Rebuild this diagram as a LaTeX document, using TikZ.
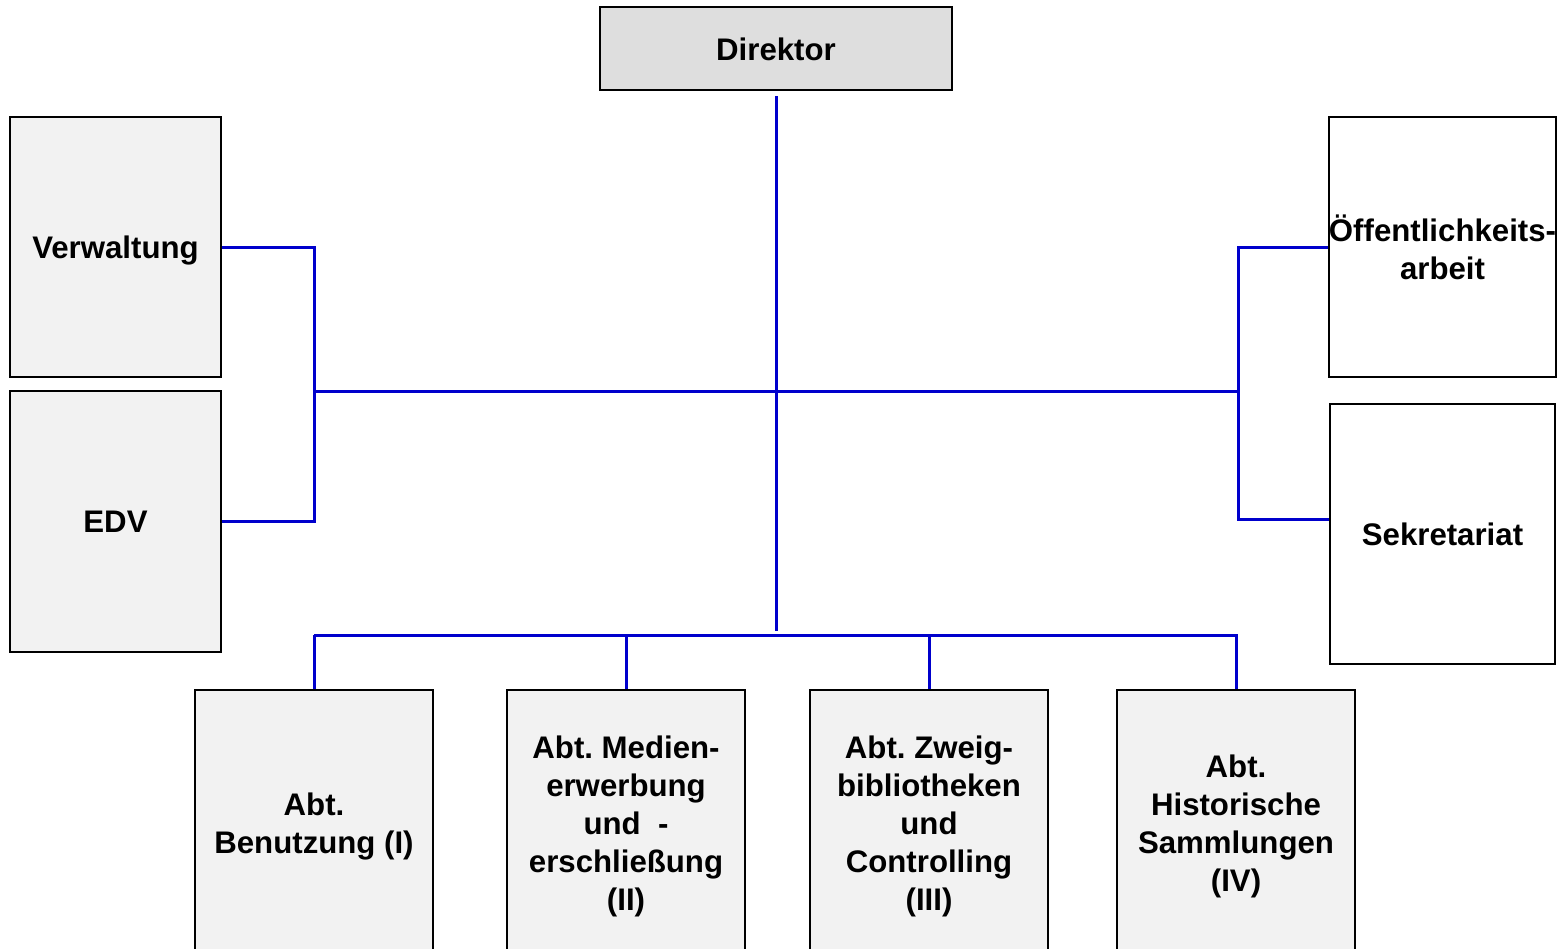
\documentclass[tikz,border=0pt]{standalone}
\usepackage{fontspec}
\setmainfont{Liberation Sans}
\frenchspacing
\definecolor{dirgrey}{HTML}{DEDEDE}
\definecolor{boxgrey}{HTML}{F2F2F2}
\definecolor{linkblue}{HTML}{0000CC}
\begin{document}
\begin{tikzpicture}[x=0.5pt,y=-0.5pt,
  box/.style={draw=black, line width=1pt, align=center, inner sep=0pt, text depth=0pt,
    font=\fontsize{15.6}{19}\selectfont\bfseries},
  side/.style={box, minimum width=105.5pt, minimum height=130pt},
  rside/.style={box, fill=white, minimum width=112.5pt, minimum height=130pt},
  abt/.style={box, fill=boxgrey, minimum width=119pt, minimum height=133pt},
  link/.style={draw=linkblue, line width=1.5pt}]
\clip (0,0) rectangle (1562,948);
\fill[white] (0,0) rectangle (1562,948);
% nodes
\node[box, fill=dirgrey, minimum width=176pt, minimum height=41.5pt] (dir) at (776,48.5) {\raisebox{-1pt}{Direktor}};
\node[side, fill=boxgrey] (verw) at (115.5,247) {Verwaltung};
\node[side, fill=boxgrey, minimum height=130.5pt] (edv) at (115.5,521.5) {EDV};
\node[rside] (oeff) at (1442.5,247) {Öffentlichkeits-\\arbeit};
\node[rside] (sek) at (1442.5,534) {Sekretariat};
\node[abt] (a1) at (314,823) {Abt.\\Benutzung (I)};
\node[abt] (a2) at (626,823) {Abt. Medien-\\erwerbung\\und\ \ -\\erschließung\\(II)};
\node[abt] (a3) at (929,823) {Abt. Zweig-\\bibliotheken\\und\\Controlling\\(III)};
\node[abt] (a4) at (1236,823) {Abt.\\Historische\\Sammlungen\\(IV)};
% junctions
\coordinate (hl) at (314,391);
\coordinate (hr) at (1238,391);
\coordinate (bl) at (314,635);
\coordinate (br) at (1238,635);
\coordinate (bc) at (776,631);
% connectors
\draw[link, shorten <=2.5pt] (dir.south) -- (bc);
\draw[link] (hl) -- (hr);
\draw[link] (verw.east) -| (hl);
\draw[link] (hl) |- (edv.east);
\draw[link] (oeff.west) -| (hr);
\draw[link] (hr) |- (sek.west |- 0,519);
\draw[link] (bl) -- (br);
\draw[link] (a1.north) -- (a1.north |- bl);
\draw[link] (a2.north) -- (a2.north |- bl);
\draw[link] (a3.north) -- (a3.north |- bl);
\draw[link] (a4.north) -- (a4.north |- bl);
\end{tikzpicture}
\end{document}
